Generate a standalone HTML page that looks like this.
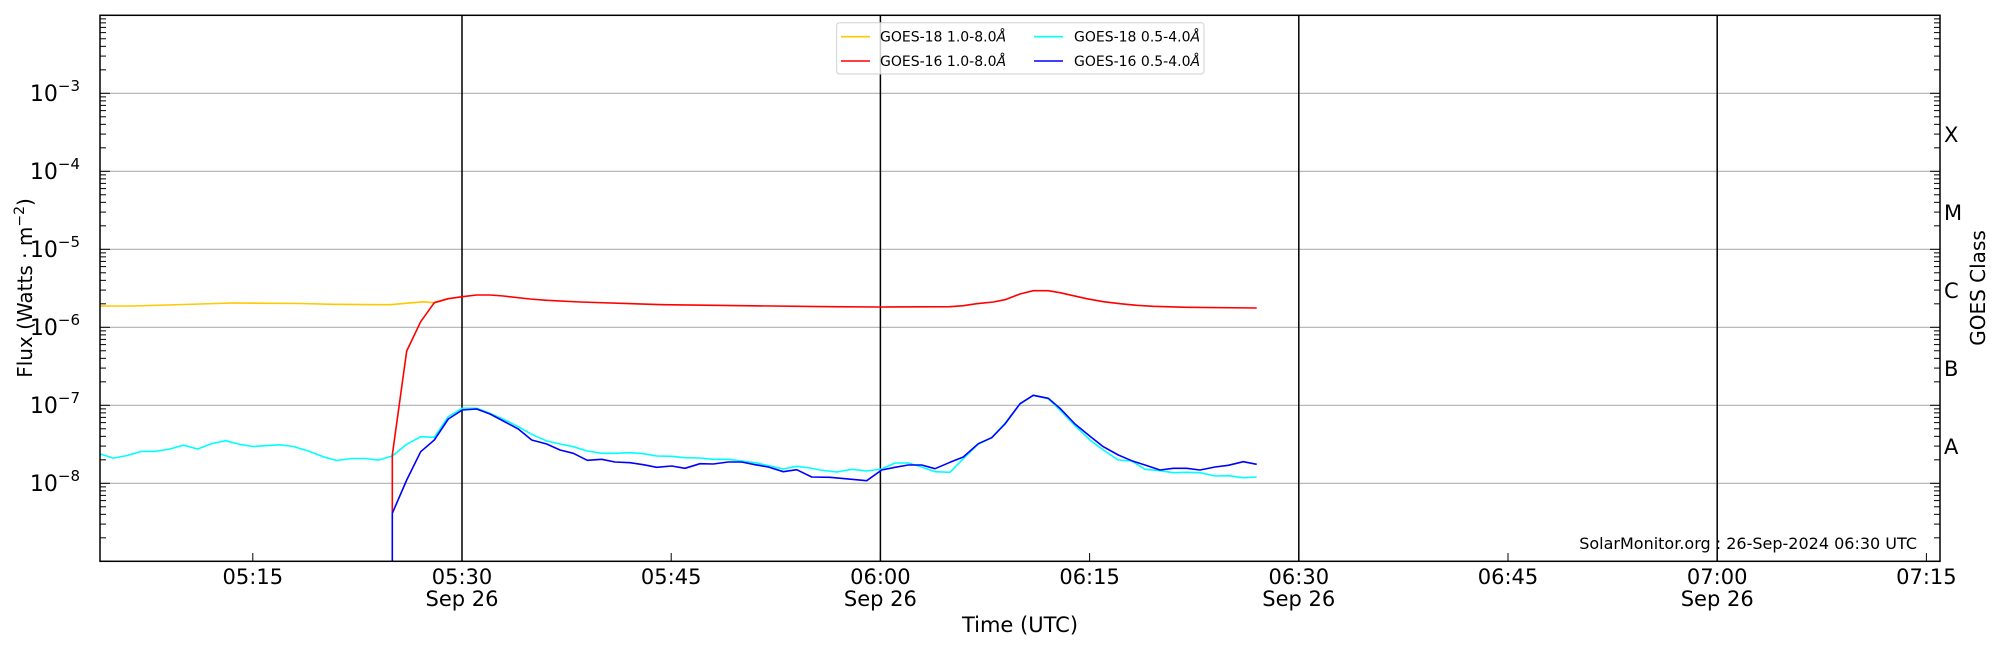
<!DOCTYPE html>
<html><head><meta charset="utf-8"><style>
html,body{margin:0;padding:0;background:#fff}
svg{display:block}
text{font-family:"DejaVu Sans","Liberation Sans",sans-serif;fill:#000}
</style></head><body>
<svg id="s" width="2000" height="650" viewBox="0 0 2000 650" xmlns="http://www.w3.org/2000/svg">
<g stroke="#b0b0b0" stroke-width="1.2">
<line x1="100" x2="1940" y1="93.3" y2="93.3"/><line x1="100" x2="1940" y1="171.3" y2="171.3"/>
<line x1="100" x2="1940" y1="249.3" y2="249.3"/><line x1="100" x2="1940" y1="327.3" y2="327.3"/>
<line x1="100" x2="1940" y1="405.3" y2="405.3"/><line x1="100" x2="1940" y1="483.3" y2="483.3"/>
</g>
<g stroke="#000" stroke-width="1.5">
<line x1="462" x2="462" y1="15.3" y2="561.3"/><line x1="880.4" x2="880.4" y1="15.3" y2="561.3"/>
<line x1="1298.8" x2="1298.8" y1="15.3" y2="561.3"/><line x1="1717.2" x2="1717.2" y1="15.3" y2="561.3"/>
</g>
<g id="ticks" stroke="#000" stroke-width="1"></g>
<g fill="none" stroke-width="1.6" stroke-linejoin="round">
<polyline stroke="#ffc800" points="100,306 133,306 200,304 233,303 300,303.5 333,304.3 390,304.7 423,301.8 434,302.7 448,298.7"/>
<polyline stroke="#00ffff" points="100,453.9 113.3,458.1 126.7,455.6 141.7,451.4 155,451.4 170,449 183.3,445.2 197.7,449 211.7,443.6 225.7,440.7 240,444.4 253.3,446.5 266.7,445.6 280,444.8 293.3,446.5 308.3,451 323.3,456.8 336.7,460.5 351.7,458.5 365,458.5 378.3,460.1 392.3,456 406.7,444.3 420.7,436.7 434.3,437.3 448.3,416.7 462.3,408.3 476.7,408.3 490,413.3 505,420 518.3,426.7 531.7,434.3 546.7,441 560,444 573.3,446.7 587.3,451 601.7,453.3 615,453.3 630,452.7 643.3,453.7 656.7,456 671.7,456.3 685,457.7 700,458 713.3,459.3 728.3,459.3 741.7,461 755,462.7 768.3,465.7 783.3,469 796.7,466.3 810,468 820,470 836.7,472 851.7,469.3 866.7,471 881.7,469 895,463 908.3,463 921.7,467 935,471.7 950,472.3 963.3,458.7 978.3,444 991.7,437.7 1005,423.3 1020,404 1033.3,395.3 1048.3,398.7 1060,410 1075,425.7 1090,440 1103.3,450 1118.3,460 1131.7,461 1145,469.3 1160,470.7 1173.3,472.7 1186.7,472.3 1200,472.7 1215,476 1228.3,475.7 1243.3,477.7 1256.7,477"/>
<polyline stroke="#ff0000" points="392.3,513.3 392.3,455 406.7,351 420.7,321.7 434.3,302.7 448.3,298.7 462.3,296.7 476.7,295 490,295 503.3,296 530,299 546.7,300.3 580,302 663.3,304.7 713.3,305.3 830,306.7 880,307 950,306.7 963.3,305.7 976.7,303.7 993.3,302 1005,299.7 1020,294 1033.3,290.7 1048.3,290.7 1060,292.7 1073.3,295.7 1086.7,298.7 1103.3,301.7 1120,303.7 1136.7,305.3 1153.3,306.3 1186.7,307.3 1256.7,308"/>
<polyline stroke="#0000ff" points="392.3,561 392.3,513.3 406.7,480 420.7,451.7 434.3,440 448.3,419 462.3,410 476.7,409 490,414 503.3,421 518.3,429 531.7,440 546.7,444 560,450 573.3,453.3 587.3,460.3 601.7,459.3 615,462 630,462.7 643.3,464.7 656.7,467.3 671.7,466 685,468.3 700,463.7 713.3,464 728.3,462 741.7,462 755,464.7 768.3,467 783.3,471.7 796.7,469.7 811.7,477 830,477.3 866.7,480.7 881.7,470 895,467.3 908.3,465 921.7,465 935,468.7 950,462.3 963.3,457 978.3,443.7 991.7,437.7 1005,424 1020,403.7 1033.3,395.3 1048.3,398.3 1060,408.3 1075,424 1090,436.3 1103.3,446.7 1118.3,455 1131.7,460.7 1145,465 1160,470 1173.3,468.3 1186.7,468.3 1200,470 1215,467 1228.3,465.3 1243.3,461.7 1256.7,464.3"/>
</g>
<rect x="100" y="15.3" width="1840" height="546" fill="none" stroke="#000" stroke-width="1.5"/>
<g font-size="22" text-anchor="end">
<text x="80" y="101">10<tspan font-size="15" dy="-10">−3</tspan></text>
<text x="80" y="179">10<tspan font-size="15" dy="-10">−4</tspan></text>
<text x="80" y="257">10<tspan font-size="15" dy="-10">−5</tspan></text>
<text x="80" y="335">10<tspan font-size="15" dy="-10">−6</tspan></text>
<text x="80" y="413">10<tspan font-size="15" dy="-10">−7</tspan></text>
<text x="80" y="491">10<tspan font-size="15" dy="-10">−8</tspan></text>
</g>
<text font-size="20" text-anchor="middle" transform="translate(32,288) rotate(-90)">Flux (Watts · m<tspan font-size="14" dy="-8">−2</tspan><tspan dy="8">)</tspan></text>
<g font-size="21" text-anchor="middle">
<text x="252.8" y="584">05:15</text>
<text x="462" y="584">05:30</text><text x="462" y="606">Sep 26</text>
<text x="671.2" y="584">05:45</text>
<text x="880.4" y="584">06:00</text><text x="880.4" y="606">Sep 26</text>
<text x="1089.6" y="584">06:15</text>
<text x="1298.8" y="584">06:30</text><text x="1298.8" y="606">Sep 26</text>
<text x="1508" y="584">06:45</text>
<text x="1717.2" y="584">07:00</text><text x="1717.2" y="606">Sep 26</text>
<text x="1926.4" y="584">07:15</text>
<text x="1020" y="632">Time (UTC)</text>
</g>
<g font-size="21">
<text x="1944" y="142">X</text><text x="1944" y="220">M</text><text x="1944" y="298">C</text>
<text x="1944" y="376">B</text><text x="1944" y="454">A</text>
</g>
<text font-size="20" text-anchor="middle" transform="translate(1985,288) rotate(-90)">GOES Class</text>
<text x="1917" y="549" font-size="16" text-anchor="end">SolarMonitor.org : 26-Sep-2024 06:30 UTC</text>
<rect x="836.7" y="22.7" width="367.3" height="51.3" rx="3" fill="#fff" fill-opacity="0.8" stroke="#d0d0d0" stroke-width="1"/>
<g stroke-width="1.6">
<line x1="841" x2="870" y1="36.7" y2="36.7" stroke="#ffc800"/>
<line x1="841" x2="870" y1="61" y2="61" stroke="#ff0000"/>
<line x1="1034" x2="1063" y1="36.7" y2="36.7" stroke="#00ffff"/>
<line x1="1034" x2="1063" y1="61" y2="61" stroke="#0000ff"/>
</g>
<g font-size="14">
<text x="880" y="41.5">GOES-18 1.0-8.0<tspan font-style="italic">Å</tspan></text>
<text x="880" y="66">GOES-16 1.0-8.0<tspan font-style="italic">Å</tspan></text>
<text x="1074" y="41.5">GOES-18 0.5-4.0<tspan font-style="italic">Å</tspan></text>
<text x="1074" y="66">GOES-16 0.5-4.0<tspan font-style="italic">Å</tspan></text>
</g>
</svg>
<script>
(function(){
var g=document.getElementById('ticks'),h='';
function y(v){return 483.3-(Math.log10(v)+8)*78;}
for(var d=-9;d<=-2;d++){for(var k=1;k<=9;k++){var v=k*Math.pow(10,d),yy=y(v);
if(yy<15||yy>561.5)continue;var L=(k==1)?10:6;
h+='<line x1="100" x2="'+(100+L)+'" y1="'+yy+'" y2="'+yy+'"/>';
h+='<line x1="1940" x2="'+(1940-L)+'" y1="'+yy+'" y2="'+yy+'"/>';}}
var xs=[252.8,462,671.2,880.4,1089.6,1298.8,1508,1717.2,1926.4];
xs.forEach(function(x){h+='<line x1="'+x+'" x2="'+x+'" y1="561.3" y2="553"/>';});
g.innerHTML=h;})();
</script>
</body></html>
